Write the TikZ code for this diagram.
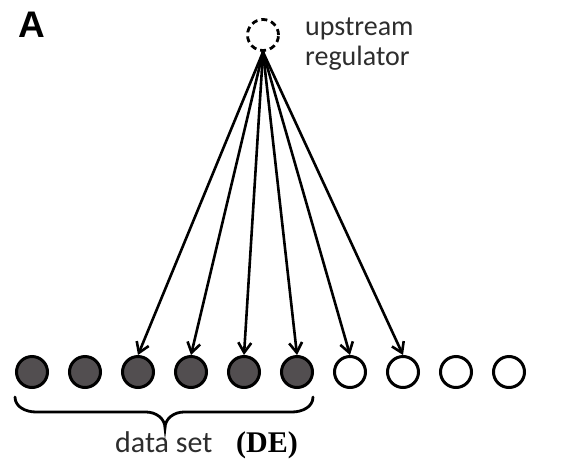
\documentclass[tikz,border=0pt]{standalone}
\usepackage{fontspec}
\setmainfont{Carlito}
\newfontfamily\arialfont{Liberation Sans}
\newfontfamily\timesfont{Liberation Serif}
\usetikzlibrary{arrows.meta}
\definecolor{darkfill}{RGB}{82,78,80}
\definecolor{txtgray}{RGB}{45,45,45}
\tikzset{
  item/.style={circle, draw=black, line width=3pt, minimum size=31pt, inner sep=0pt},
  filled/.style={item, fill=darkfill},
  empty/.style={item, fill=white},
  reg/.style={circle, draw=black, line width=2.8pt, dash pattern=on 6pt off 4pt, minimum size=31pt, inner sep=0pt},
  link/.style={line width=2.6pt, -{Straight Barb[length=10pt,width=13pt,line width=2.6pt]}},
  lbl/.style={font=\fontsize{28}{30}\selectfont, text=txtgray, inner sep=0pt}
}
\begin{document}
\begin{tikzpicture}[x=1pt,y=-1pt]
\fill[white] (0,0) rectangle (587,464);
\useasboundingbox (0,0) rectangle (587,464);
\node[anchor=base west, inner sep=0pt, font=\arialfont\bfseries\fontsize{37}{40}\selectfont] (lA) at (18,37) {A};
\node[reg] (u) at (263,35) {};
\node[lbl, anchor=base west] (t1) at (305,35) {upstream};
\node[lbl, anchor=base west] (t2) at (305,65) {regulator};
\coordinate (src) at (263,52);
\foreach \i/\x in {1/32,2/85,3/138,4/191,5/244,6/297}{
  \node[filled] (c\i) at (\x,372) {};
}
\foreach \i/\x in {7/350,8/403,9/456,10/509}{
  \node[empty] (c\i) at (\x,372) {};
}
\foreach \i in {3,...,8}{
  \draw[link] (src) -- (c\i.north);
}
\draw[line width=2.8pt, line cap=round]
  (15,397) to[out=-90,in=180] (36,412) -- (146,412) to[out=0,in=90] (165,428)
  to[out=90,in=180] (184,412) -- (292,412) to[out=0,in=-90] (313,397);
\node[lbl, anchor=base west, font=\fontsize{30}{32}\selectfont] (ds) at (115,452) {data set};
\node[anchor=base west, inner sep=0pt, font=\timesfont\bfseries\fontsize{30}{32}\selectfont] (de) at (236,452) {(DE)};
\end{tikzpicture}
\end{document}
